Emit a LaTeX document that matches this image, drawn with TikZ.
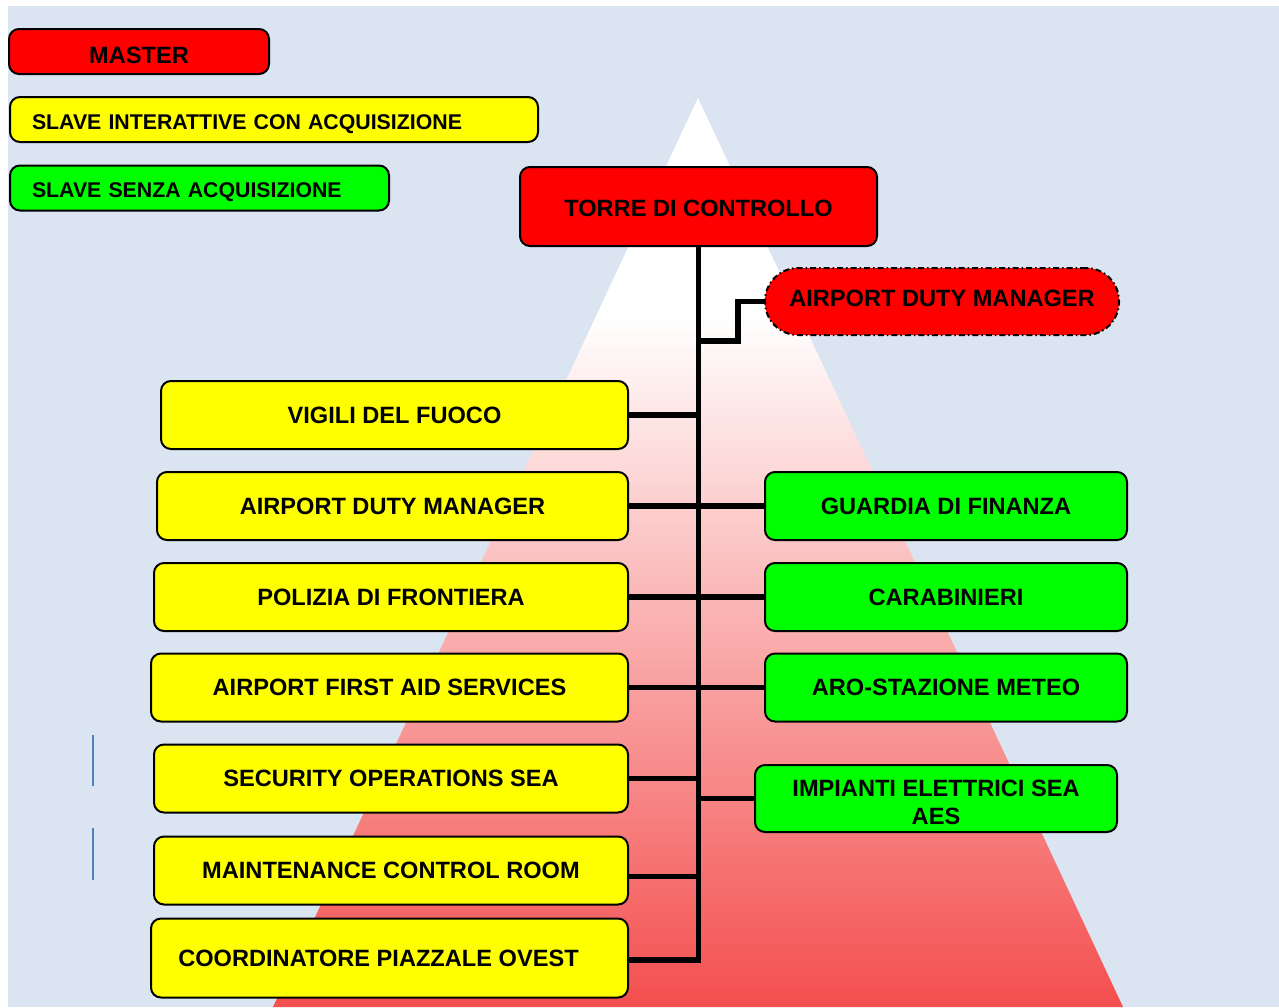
\documentclass[tikz,border=0pt]{standalone}
\usepackage{fontspec}
\setmainfont{Liberation Sans}
\usepackage{tikz}
\usetikzlibrary{positioning,calc}
\usepackage{xcolor}
\definecolor{bgblue}{HTML}{DBE5F1}
\definecolor{master}{HTML}{FF0000}
\definecolor{slaveacq}{HTML}{FFFF00}
\definecolor{slavenoacq}{HTML}{00FF00}
\definecolor{tribot}{HTML}{F44E4E}
\definecolor{tickblue}{HTML}{4F81BD}
\pgfdeclareverticalshading{towerfade}{100bp}{color(0bp)=(tribot); color(25bp)=(tribot); color(63bp)=(white); color(100bp)=(white)}
\newcommand{\bigtxt}{\fontsize{23.6}{28}\selectfont\bfseries}
\newcommand{\legtxt}{\fontsize{21.3}{25}\selectfont\bfseries}
\tikzset{
  box/.style={draw=black, line width=2pt, rounded corners=10pt, align=center,
              font=\bigtxt, inner sep=0pt, minimum height=68pt},
  redbox/.style={box, fill=master},
  ybox/.style={box, fill=slaveacq},
  gbox/.style={box, fill=slavenoacq},
  legbox/.style={box, font=\legtxt, minimum height=45pt, align=left, inner xsep=22pt,
                 text height=19pt, text depth=0pt},
  conn/.style={draw=black, line width=5.5pt},
  tickln/.style={draw=tickblue, line width=2pt}
}
\begin{document}
\begin{tikzpicture}[x=1pt,y=-1pt]
  \useasboundingbox (0,0) rectangle (1279,1007);
  \fill[bgblue] (8,6) rectangle (1279,1007);
  \path[shading=towerfade] (698,98) -- (1123,1007) -- (273,1007) -- cycle;

  \node[redbox, minimum width=260pt, minimum height=45pt, text height=24pt, text depth=0pt] (lmaster) at (139,51.5) {MASTER};
  \node[legbox, fill=slaveacq, anchor=west, text width=484pt] (lacq) at (9,119.5) {SLAVE INTERATTIVE CON ACQUISIZIONE};
  \node[legbox, fill=slavenoacq, anchor=west, text width=335pt] (lnoacq) at (9,188) {SLAVE SENZA ACQUISIZIONE};

  \node[redbox, minimum width=357pt, minimum height=79pt, text height=20pt, text depth=0pt] (torre) at (698.5,206.5) {TORRE DI CONTROLLO};
  \node[redbox, dash pattern=on 6pt off 3pt on 1.5pt off 3pt, rounded corners=33pt,
        minimum width=354pt, minimum height=67pt, text height=9pt, text depth=0pt] (adm) at (942,301.5) {AIRPORT DUTY MANAGER};

  \foreach \n/\y/\w/\t in {vvf/415/467/{VIGILI DEL FUOCO}, admy/506/471/{AIRPORT DUTY MANAGER},
      pdf/597/474/{POLIZIA DI FRONTIERA}, fas/687.5/477/{AIRPORT FIRST AID SERVICES},
      sos/778.5/474/{SECURITY OPERATIONS SEA}, mcr/870.5/474/{MAINTENANCE CONTROL ROOM}} {
    \node[ybox, anchor=east, minimum width=\w pt] (\n) at (629,\y) {\t};
  }
  \node[ybox, anchor=east, minimum width=477pt, minimum height=79pt] (cpo) at (629,958) {COORDINATORE PIAZZALE OVEST\hspace{22pt}};

  \foreach \n/\y/\t in {gdf/506/{GUARDIA DI FINANZA}, cara/597/{CARABINIERI}, aro/687.5/{ARO-STAZIONE METEO}} {
    \node[gbox, anchor=west, minimum width=362pt] (\n) at (764,\y) {\t};
  }
  \node[gbox, anchor=west, minimum width=362pt, minimum height=67pt] (iesa) at (754,798.5) {\rule{0pt}{25pt}IMPIANTI ELETTRICI SEA\\AES};

  \coordinate (k) at (698,341);
  \draw[conn] (torre.south) |- ([yshift=-2pt]cpo.east);
  \draw[conn] (adm.west) -- ++(-26,0) |- (k);
  \foreach \n in {vvf,admy,pdf,fas,sos} { \draw[conn] (\n.east) -- (\n.east -| torre.south); }
  \draw[conn] ([yshift=-6pt]mcr.east) -- ([yshift=-6pt]mcr.east -| torre.south);
  \foreach \n in {gdf,cara,aro,iesa} { \draw[conn] (\n.west) -- (\n.west -| torre.south); }

  \draw[tickln] (93,735) -- (93,786);
  \draw[tickln] (93,828) -- (93,880);
\end{tikzpicture}
\end{document}
